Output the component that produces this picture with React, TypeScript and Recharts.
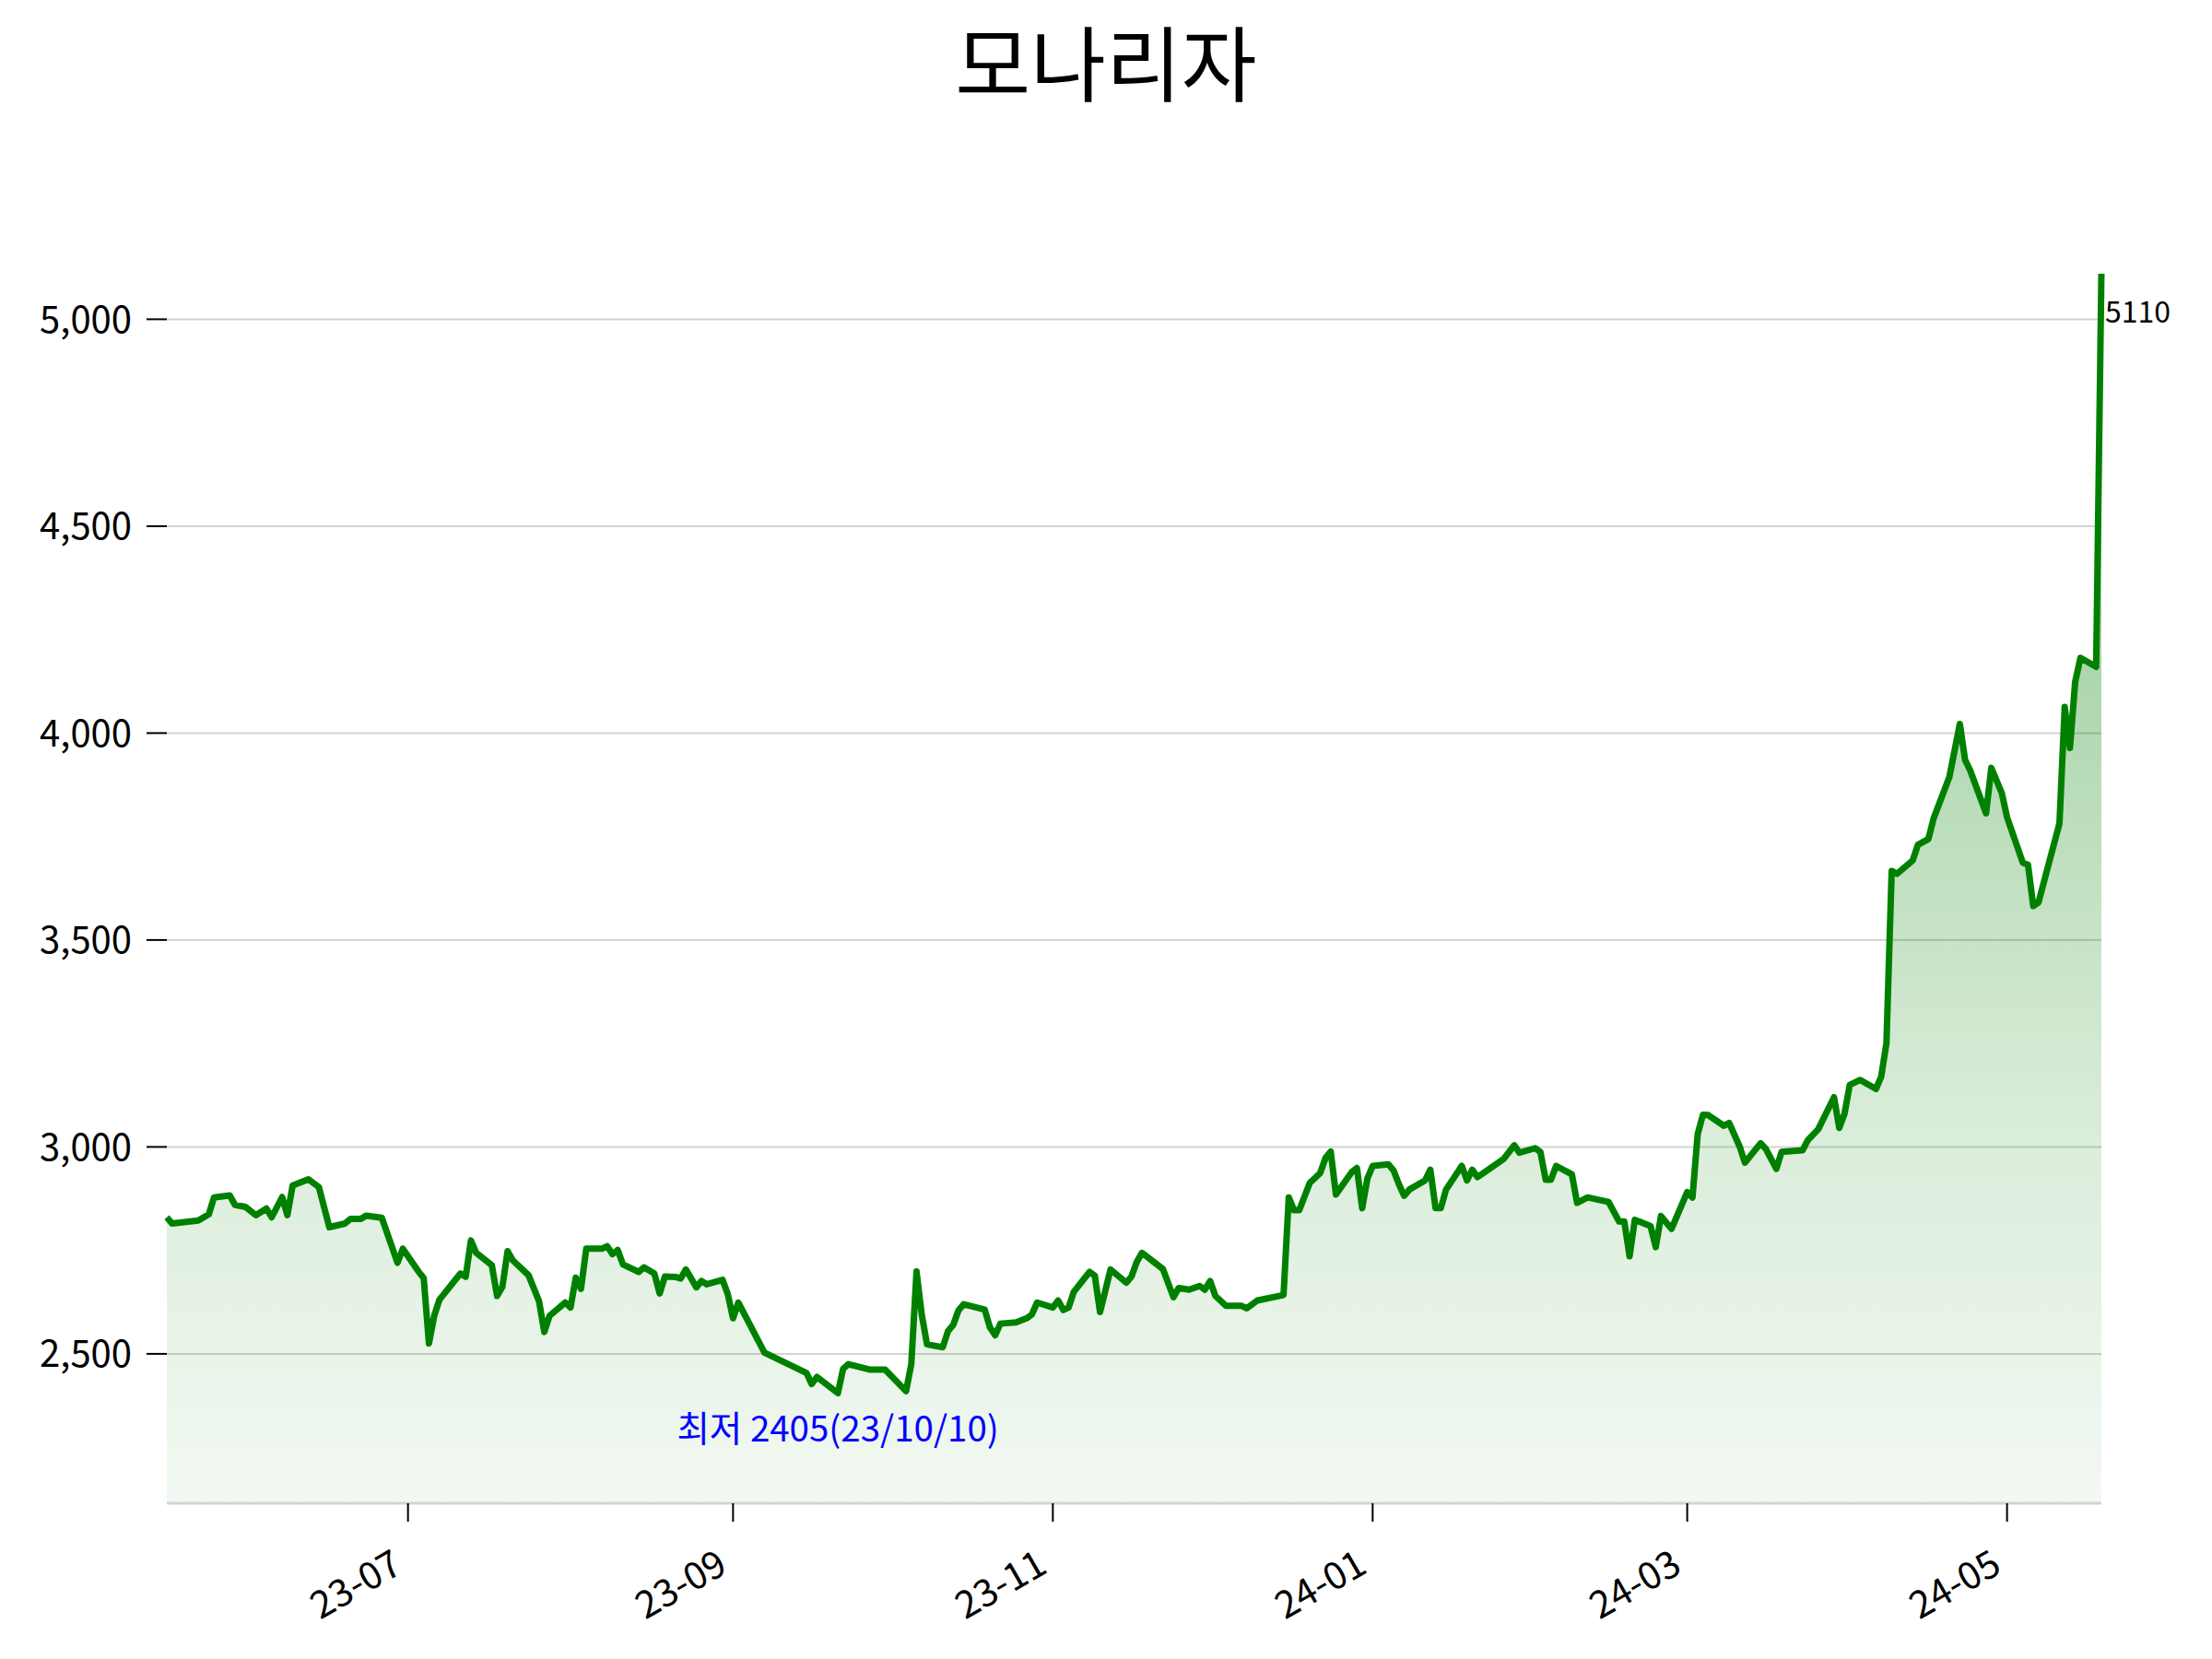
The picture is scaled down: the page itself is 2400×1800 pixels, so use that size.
import React from "react";
import {
  ComposedChart,
  Area,
  Line,
  XAxis,
  YAxis,
  CartesianGrid,
  ReferenceDot,
} from "recharts";

const FONT = '"Noto Sans CJK KR", "Noto Sans", sans-serif';

const dates = [
  "2023-05-16", "2023-05-17", "2023-05-22", "2023-05-24", "2023-05-25", "2023-05-28", "2023-05-29", "2023-05-31",
  "2023-06-02", "2023-06-04", "2023-06-05", "2023-06-07", "2023-06-08", "2023-06-09", "2023-06-12", "2023-06-14",
  "2023-06-16", "2023-06-19", "2023-06-20", "2023-06-22", "2023-06-23", "2023-06-26", "2023-06-29", "2023-06-30",
  "2023-07-03", "2023-07-04", "2023-07-05", "2023-07-06", "2023-07-07", "2023-07-11", "2023-07-12", "2023-07-13",
  "2023-07-14", "2023-07-17", "2023-07-18", "2023-07-19", "2023-07-20", "2023-07-21", "2023-07-24", "2023-07-26",
  "2023-07-27", "2023-07-28", "2023-07-31", "2023-08-01", "2023-08-02", "2023-08-03", "2023-08-04", "2023-08-07",
  "2023-08-08", "2023-08-09", "2023-08-10", "2023-08-11", "2023-08-14", "2023-08-15", "2023-08-17", "2023-08-18",
  "2023-08-19", "2023-08-21", "2023-08-22", "2023-08-23", "2023-08-25", "2023-08-26", "2023-08-27", "2023-08-30",
  "2023-08-31", "2023-09-01", "2023-09-02", "2023-09-07", "2023-09-15", "2023-09-16", "2023-09-17", "2023-09-21",
  "2023-09-22", "2023-09-23", "2023-09-27", "2023-09-30", "2023-10-04", "2023-10-05", "2023-10-06", "2023-10-07",
  "2023-10-08", "2023-10-11", "2023-10-12", "2023-10-13", "2023-10-14", "2023-10-15", "2023-10-19", "2023-10-20",
  "2023-10-21", "2023-10-22", "2023-10-25", "2023-10-27", "2023-10-28", "2023-10-29", "2023-11-01", "2023-11-02",
  "2023-11-03", "2023-11-04", "2023-11-05", "2023-11-08", "2023-11-09", "2023-11-10", "2023-11-12", "2023-11-15",
  "2023-11-16", "2023-11-17", "2023-11-18", "2023-11-22", "2023-11-24", "2023-11-25", "2023-11-27", "2023-11-29",
  "2023-11-30", "2023-12-01", "2023-12-02", "2023-12-04", "2023-12-07", "2023-12-08", "2023-12-10", "2023-12-15",
  "2023-12-16", "2023-12-17", "2023-12-18", "2023-12-20", "2023-12-22", "2023-12-23", "2023-12-24", "2023-12-25",
  "2023-12-28", "2023-12-29", "2023-12-30", "2023-12-31", "2024-01-01", "2024-01-04", "2024-01-05", "2024-01-06",
  "2024-01-07", "2024-01-08", "2024-01-11", "2024-01-12", "2024-01-13", "2024-01-14", "2024-01-15", "2024-01-18",
  "2024-01-19", "2024-01-20", "2024-01-21", "2024-01-26", "2024-01-28", "2024-01-29", "2024-02-01", "2024-02-02",
  "2024-02-03", "2024-02-04", "2024-02-05", "2024-02-08", "2024-02-09", "2024-02-11", "2024-02-15", "2024-02-17",
  "2024-02-18", "2024-02-19", "2024-02-20", "2024-02-23", "2024-02-24", "2024-02-25", "2024-02-27", "2024-03-01",
  "2024-03-02", "2024-03-03", "2024-03-04", "2024-03-05", "2024-03-08", "2024-03-09", "2024-03-11", "2024-03-12",
  "2024-03-15", "2024-03-16", "2024-03-18", "2024-03-19", "2024-03-23", "2024-03-24", "2024-03-26", "2024-03-29",
  "2024-03-30", "2024-03-31", "2024-04-01", "2024-04-03", "2024-04-06", "2024-04-07", "2024-04-08", "2024-04-09",
  "2024-04-10", "2024-04-13", "2024-04-14", "2024-04-16", "2024-04-17", "2024-04-20", "2024-04-22", "2024-04-23",
  "2024-04-24", "2024-04-27", "2024-04-28", "2024-04-30", "2024-05-01", "2024-05-04", "2024-05-05", "2024-05-06",
  "2024-05-07", "2024-05-11", "2024-05-12", "2024-05-13", "2024-05-14", "2024-05-15", "2024-05-18", "2024-05-19",
];

const prices = [
  2830, 2815, 2822, 2837, 2878, 2883, 2860, 2855,
  2835, 2851, 2830, 2879, 2835, 2907, 2922, 2903,
  2806, 2815, 2826, 2826, 2834, 2829, 2720, 2754,
  2699, 2683, 2525, 2592, 2631, 2694, 2686, 2774,
  2744, 2714, 2640, 2662, 2748, 2726, 2690, 2627,
  2553, 2592, 2624, 2612, 2684, 2657, 2754, 2754,
  2760, 2741, 2751, 2716, 2698, 2709, 2694, 2646,
  2687, 2686, 2682, 2704, 2661, 2676, 2668, 2679,
  2644, 2586, 2624, 2503, 2454, 2427, 2444, 2405,
  2464, 2475, 2462, 2462, 2410, 2475, 2699, 2594,
  2523, 2516, 2555, 2570, 2605, 2620, 2607, 2564,
  2545, 2573, 2576, 2586, 2595, 2624, 2612, 2629,
  2606, 2612, 2650, 2698, 2689, 2601, 2704, 2672,
  2687, 2722, 2744, 2705, 2637, 2659, 2655, 2664,
  2655, 2676, 2640, 2616, 2616, 2610, 2629, 2642,
  2878, 2847, 2847, 2913, 2937, 2973, 2989, 2885,
  2939, 2949, 2852, 2924, 2954, 2958, 2943, 2910,
  2882, 2897, 2919, 2945, 2852, 2852, 2897, 2954,
  2919, 2945, 2927, 2971, 3004, 2986, 2997, 2988,
  2921, 2921, 2954, 2934, 2865, 2878, 2867, 2820,
  2820, 2736, 2824, 2809, 2758, 2833, 2802, 2891,
  2878, 3031, 3078, 3077, 3051, 3058, 3001, 2962,
  3009, 2995, 2947, 2988, 2992, 3016, 3043, 3120,
  3046, 3080, 3150, 3162, 3140, 3170, 3251, 3667,
  3660, 3692, 3730, 3744, 3794, 3894, 4022, 3935,
  3909, 3806, 3916, 3855, 3797, 3687, 3682, 3582,
  3591, 3782, 4063, 3964, 4124, 4182, 4160, 5110,
];

const xTickDates = ["2023-07-01", "2023-09-01", "2023-11-01", "2024-01-01", "2024-03-01", "2024-05-01"];
const yTicks = [2500, 3000, 3500, 4000, 4500, 5000];
const yDomain = [2139, 5110];

const title = "모나리자";
const minText = "최저 2405(23/10/10)";

const data = dates.map((d, i) => ({ t: Date.parse(d), price: prices[i] }));
const xTicks = xTickDates.map((d) => Date.parse(d));
const minIdx = prices.indexOf(Math.min(...prices));
const lastIdx = data.length - 1;

function fmtMonth(t: number) {
  const d = new Date(t);
  return `${String(d.getUTCFullYear()).slice(2)}-${String(d.getUTCMonth() + 1).padStart(2, "0")}`;
}

function XTick({ x, y, payload }: any) {
  const px = x - 4;
  const py = y + 52;
  return (
    <text
      x={px}
      y={py}
      textAnchor="end"
      transform={`rotate(-30 ${px} ${py})`}
      fontSize={41}
      fontFamily={FONT}
      fill="#000"
    >
      {fmtMonth(payload.value)}
    </text>
  );
}

function MinLabel({ viewBox }: any) {
  const cx = viewBox.x + viewBox.width / 2;
  const cy = viewBox.y + viewBox.height / 2;
  return (
    <text x={cx} y={cy + 52} textAnchor="middle" fontSize={38.5} fontFamily={FONT} fill="#0000ff">
      {minText}
    </text>
  );
}

function LastLabel({ viewBox }: any) {
  const cx = viewBox.x + viewBox.width / 2;
  const cy = viewBox.y + viewBox.height / 2;
  return (
    <text x={cx + 4} y={cy + 53} fontSize={32} fontFamily={FONT} fill="#000">
      {prices[lastIdx]}
    </text>
  );
}

export default function App() {
  return (
    <div style={{ position: "absolute", left: 0, top: 0, width: 2400, height: 1800, background: "#fff" }}>
      <svg width={2400} height={140} style={{ position: "absolute", left: 0, top: 0 }}>
        <text x={1200} y={64} textAnchor="middle" dominantBaseline="central" fontSize={89} fontFamily={FONT} fill="#000">
          {title}
        </text>
      </svg>
      <ComposedChart
        width={2400}
        height={1800}
        data={data}
        margin={{ top: 297, right: 120, bottom: 0, left: 0 }}
      >
        <defs>
          <linearGradient id="fillGreen" x1="0" y1="0" x2="0" y2="1">
            <stop offset="0%" stopColor="#008000" stopOpacity={0.47} />
            <stop offset="28%" stopColor="#008000" stopOpacity={0.34} />
            <stop offset="71%" stopColor="#008000" stopOpacity={0.14} />
            <stop offset="100%" stopColor="#008000" stopOpacity={0.05} />
          </linearGradient>
        </defs>
        <CartesianGrid
          vertical={false}
          horizontalValues={yTicks}
          stroke="#d3d3d3"
          strokeWidth={2}
        />
        <XAxis
          dataKey="t"
          type="number"
          domain={["dataMin", "dataMax"]}
          ticks={xTicks}
          tick={<XTick />}
          height={169}
          tickSize={20}
          axisLine={{ stroke: "#d3d3d3", strokeWidth: 3 }}
          tickLine={{ stroke: "#000", strokeWidth: 2 }}
          interval={0}
        />
        <YAxis
          type="number"
          domain={yDomain}
          allowDataOverflow
          ticks={yTicks}
          width={181}
          tickSize={22}
          tickMargin={16}
          axisLine={false}
          tickLine={{ stroke: "#000", strokeWidth: 2 }}
          tick={{ fill: "#000", fontSize: 40, fontFamily: FONT }}
          tickFormatter={(v: number) => v.toLocaleString("en-US")}
          interval={0}
        />
        <Area
          type="linear"
          dataKey="price"
          stroke="none"
          fill="url(#fillGreen)"
          fillOpacity={1}
          isAnimationActive={false}
        />
        <Line
          type="linear"
          dataKey="price"
          stroke="#008000"
          strokeWidth={7}
          strokeLinejoin="round"
          dot={false}
          activeDot={false}
          isAnimationActive={false}
        />
        <ReferenceDot
          x={data[minIdx].t}
          y={data[minIdx].price}
          r={1}
          fill="none"
          stroke="none"
          label={<MinLabel />}
        />
        <ReferenceDot
          x={data[lastIdx].t}
          y={data[lastIdx].price}
          r={1}
          fill="none"
          stroke="none"
          label={<LastLabel />}
        />
      </ComposedChart>
    </div>
  );
}
